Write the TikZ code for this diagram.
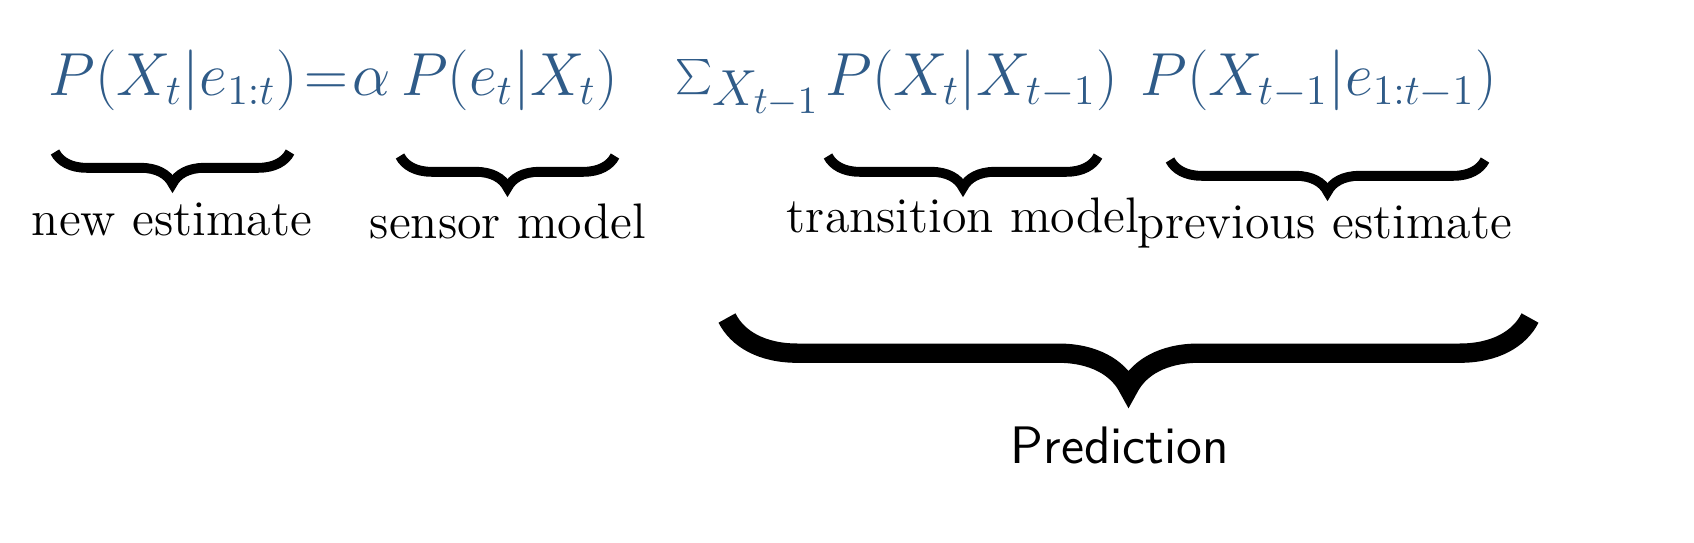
\documentclass[tikz,border=0pt]{standalone}
\usepackage{fontspec}
\usetikzlibrary{decorations.pathreplacing}
\definecolor{fblue}{HTML}{2F5B88}
\begin{document}
\begin{tikzpicture}[x=0.01cm,y=-0.01cm,
  fm/.style={anchor=base west,inner sep=0,text=fblue,font=\fontsize{18}{22}\selectfont},
  lbl/.style={anchor=base,inner sep=0,font=\fontsize{14.2}{18}\selectfont},
  br/.style={decorate,decoration={brace,mirror,amplitude=#1},line width=2.8pt}]
\useasboundingbox (0,0) rectangle (1694,542);
\node[fm] (f1) at (48,95) {$P(X_t|e_{1:t})\!=$};
\node[fm] (f2) at (352,95) {$\alpha\,P(e_t|X_t)$};
\node[fm,font=\fontsize{21}{24}\selectfont] (f3) at (675,95) {${\textstyle\sum}_{X_{t-1}}$};
\node[fm] (f4) at (825,95) {$P(X_t|X_{t-1})$};
\node[fm] (f5) at (1140,95) {$P(X_{t-1}|e_{1:t-1})$};
\coordinate (a1) at (55,152); \coordinate (b1) at (290,152);
\coordinate (a2) at (400,156); \coordinate (b2) at (615,156);
\coordinate (a3) at (828,156); \coordinate (b3) at (1098,156);
\coordinate (a4) at (1170,160); \coordinate (b4) at (1485,160);
\coordinate (a5) at (727,318); \coordinate (b5) at (1530,318);
\draw[br=9pt] (a1) -- (b1);
\draw[br=9pt] (a2) -- (b2);
\draw[br=9pt] (a3) -- (b3);
\draw[br=9pt] (a4) -- (b4);
\draw[br=20pt,line width=5.5pt] (a5) -- (b5);
\node[lbl] (l1) at (172,235) {new estimate};
\node[lbl] (l2) at (508,238) {sensor model};
\node[lbl] (l3) at (963,232) {transition model};
\node[lbl] (l4) at (1325,238) {previous estimate};
\node[lbl,font=\sffamily\fontsize{15}{18}\selectfont] (l5) at (1120,463) {Prediction};
\end{tikzpicture}
\end{document}
